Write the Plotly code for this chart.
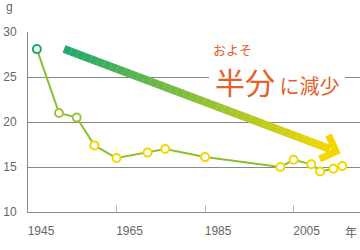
import plotly.graph_objects as go

# ---- data ----
years = [1947, 1952, 1956, 1960, 1965, 1972, 1976, 1985, 2002, 2005, 2009, 2011, 2014, 2016]
values = [28.1, 21.0, 20.5, 17.4, 16.0, 16.6, 17.0, 16.1, 15.0, 15.8, 15.3, 14.5, 14.8, 15.1]
marker_colors = ["#1fa870", "#9cc43a", "#9cc43a"] + ["#f2d800"] * 11
x_ticks = [1945, 1965, 1985, 2005]
y_ticks = [10, 15, 20, 25, 30]

W, H = 360, 250
ML, MR, MT, MB = 28, 0, 32, 38
X0, X1 = 1945, 2020
Y0, Y1 = 10, 30

def px2x(px):
    return X0 + (px - ML) / (W - ML - MR) * (X1 - X0)

def py2y(py):
    return Y1 - (py - MT) / (H - MT - MB) * (Y1 - Y0)

def px2paper(px):
    return (px - ML) / (W - ML - MR)

def py2paper(py):
    return 1 - (py - MT) / (H - MT - MB)

fig = go.Figure()
fig.add_trace(go.Scatter(
    x=years, y=values, mode="lines+markers",
    line=dict(color="#8dbf2e", width=2),
    marker=dict(size=8, color="white", line=dict(color=marker_colors, width=2)),
    hoverinfo="skip", showlegend=False,
))

shapes = []
# white gap in the gridline behind the label
shapes.append(dict(type="rect", xref="x", yref="y", layer="between",
                   x0=px2x(209), x1=px2x(345), y0=py2y(81), y1=py2y(73),
                   fillcolor="white", line=dict(width=0)))

# gradient arrow (decoration)
start = (64, 49)
end = (330, 149)
tip = (336, 151.5)
c0 = (30, 168, 110)
c1 = (245, 215, 0)
n = 40
for i in range(n):
    t0 = i / n
    t1 = (i + 1.02) / n if i < n - 1 else 1.0
    tm = (i + 0.5) / n
    col = tuple(int(round(c0[k] + (c1[k] - c0[k]) * tm)) for k in range(3))
    xa = start[0] + (end[0] - start[0]) * t0
    ya = start[1] + (end[1] - start[1]) * t0
    xb = start[0] + (end[0] - start[0]) * t1
    yb = start[1] + (end[1] - start[1]) * t1
    shapes.append(dict(type="line", xref="x", yref="y",
                       x0=px2x(xa), y0=py2y(ya), x1=px2x(xb), y1=py2y(yb),
                       line=dict(color="rgb(%d,%d,%d)" % col, width=8)))
arm1 = (328.6, 135.0)
arm2 = (319.6, 159.0)
path = "M %f,%f L %f,%f L %f,%f" % (px2x(arm1[0]), py2y(arm1[1]), px2x(tip[0]), py2y(tip[1]),
                                     px2x(arm2[0]), py2y(arm2[1]))
shapes.append(dict(type="path", xref="x", yref="y", path=path,
                   line=dict(color="rgb(245,215,0)", width=7)))

fig.update_layout(
    width=W, height=H,
    margin=dict(l=ML, r=MR, t=MT, b=MB),
    paper_bgcolor="white", plot_bgcolor="white",
    font=dict(family="Liberation Sans, Arial, sans-serif", size=12, color="#666"),
    shapes=shapes,
    xaxis=dict(range=[X0, X1], tickvals=x_ticks, ticktext=[str(v) for v in x_ticks],
               showgrid=False, zeroline=False, showline=True, linecolor="#888", linewidth=1,
               ticks="inside", ticklen=7, tickcolor="#bbb", tickwidth=1,
               ticklabelshift=13, ticklabelstandoff=8, fixedrange=True),
    yaxis=dict(range=[Y0, Y1], tickvals=y_ticks, showgrid=True, gridcolor="#888", gridwidth=1,
               zeroline=False, showline=True, linecolor="#888", linewidth=1,
               ticks="", ticklabelstandoff=8, fixedrange=True),
    annotations=[
        dict(text="g", xref="paper", yref="paper", x=px2paper(9), y=py2paper(7),
             xanchor="center", yanchor="middle",
             showarrow=False, font=dict(size=12, color="#666")),
        dict(text="年", xref="paper", yref="paper", x=px2paper(351), y=py2paper(231),
             xanchor="center", yanchor="middle",
             showarrow=False, font=dict(family="Noto Sans CJK JP", size=12, color="#666")),
        dict(text="およそ", x=px2x(211), y=py2y(49.5), xref="x", yref="y",
             xanchor="left", yanchor="middle", showarrow=False,
             font=dict(family="Noto Sans CJK JP", size=13, color="#e3612a")),
        dict(text="<span style='font-size:30px'>半分</span> <span style='font-size:20px'>に減少</span>",
             x=px2x(277), y=py2y(80.5), xref="x", yref="y",
             xanchor="center", yanchor="middle", showarrow=False,
             font=dict(family="Noto Sans CJK JP", size=20, color="#e3612a")),
    ],
)

fig.write_html("out.html")
